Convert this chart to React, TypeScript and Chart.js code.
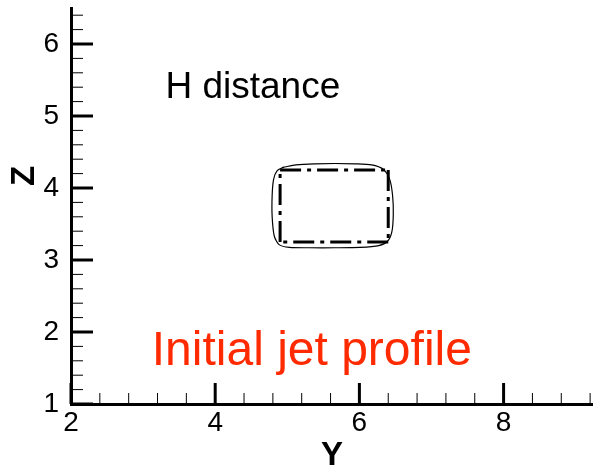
import React, { useEffect, useRef } from 'react';
import { Chart, registerables } from 'chart.js';

Chart.register(...registerables);

const FONT = "'Liberation Sans', Arial, Helvetica, sans-serif";

// Axis ranges: horizontal "Y", vertical "Z"
const Y_RANGE = [2, 9.24];
const Z_RANGE = [1, 6.5];
const Y_TICKS = [2, 4, 6, 8];
const Z_TICKS = [1, 2, 3, 4, 5, 6];
const Y_MINOR_STEP = 0.4;
const Z_MINOR_STEP = 0.2;

// Jet nozzle outline (dash-dot rectangle)
const NOZZLE_Y = [4.9, 6.4];
const NOZZLE_Z = [3.25, 4.25];

// Jet boundary at the H distance (thin closed curve)
const OUTLINE_Y = [4.95, 5.12, 5.38, 5.66, 5.94, 6.17, 6.33, 6.42, 6.46, 6.47, 6.45, 6.39, 6.27, 6.01, 5.66, 5.31, 5.03, 4.89, 4.82, 4.79, 4.79, 4.81, 4.86, 4.95];
const OUTLINE_Z = [4.29, 4.32, 4.335, 4.34, 4.335, 4.32, 4.26, 4.12, 3.9, 3.63, 3.39, 3.26, 3.2, 3.175, 3.17, 3.17, 3.175, 3.21, 3.33, 3.6, 3.9, 4.12, 4.24, 4.29];

// Text annotations
const LABEL_H = { text: 'H distance', y: 3.31, z: 5.25 };
const LABEL_JET = { text: 'Initial jet profile', y: 3.12, z: 1.54 };

const pts = (ys: number[], zs: number[]) => ys.map((y, i) => ({ x: y, y: zs[i] }));

const nozzleSides = () => {
  const [y0, y1] = NOZZLE_Y;
  const [z0, z1] = NOZZLE_Z;
  return [
    [{ x: y0, y: z1 }, { x: y1, y: z1 }],
    [{ x: y1, y: z1 }, { x: y1, y: z0 }],
    [{ x: y1, y: z0 }, { x: y0, y: z0 }],
    [{ x: y0, y: z0 }, { x: y0, y: z1 }],
  ];
};

const axisDecor = {
  id: 'axisDecor',
  afterDraw(chart: any) {
    const { ctx, chartArea, scales } = chart;
    const xs = scales.x;
    const ys = scales.y;
    const { left, right, top, bottom } = chartArea;
    ctx.save();
    ctx.strokeStyle = '#000';
    ctx.lineCap = 'butt';

    // minor ticks, pointing into the plot
    ctx.lineWidth = 1;
    const nx = Math.round((Y_RANGE[1] - Y_RANGE[0]) / Y_MINOR_STEP);
    for (let k = 1; k <= nx; k++) {
      const px = xs.getPixelForValue(Y_RANGE[0] + k * Y_MINOR_STEP);
      if (px > right + 0.5) break;
      ctx.beginPath();
      ctx.moveTo(px, bottom);
      ctx.lineTo(px, bottom - 11);
      ctx.stroke();
    }
    const nz = Math.round((Z_RANGE[1] - Z_RANGE[0]) / Z_MINOR_STEP);
    for (let k = 1; k <= nz; k++) {
      const py = ys.getPixelForValue(Z_RANGE[0] + k * Z_MINOR_STEP);
      if (py < top - 0.5) break;
      ctx.beginPath();
      ctx.moveTo(left, py);
      ctx.lineTo(left + 12, py);
      ctx.stroke();
    }

    // major ticks
    ctx.lineWidth = 3;
    Y_TICKS.forEach((v) => {
      const px = xs.getPixelForValue(v);
      ctx.beginPath();
      ctx.moveTo(px, bottom);
      ctx.lineTo(px, bottom - 21);
      ctx.stroke();
    });
    Z_TICKS.forEach((v) => {
      const py = ys.getPixelForValue(v);
      ctx.beginPath();
      ctx.moveTo(left, py);
      ctx.lineTo(left + 22, py);
      ctx.stroke();
    });

    // axis titles
    ctx.fillStyle = '#000';
    ctx.font = `bold 33px ${FONT}`;
    ctx.textAlign = 'center';
    ctx.textBaseline = 'middle';
    ctx.fillText('Y', (left + right) / 2, bottom + 52);
    ctx.save();
    ctx.translate(25, top + (bottom - top) * 0.424);
    ctx.rotate(-Math.PI / 2);
    ctx.fillText('Z', 0, 0);
    ctx.restore();

    // annotations
    ctx.textAlign = 'left';
    ctx.textBaseline = 'alphabetic';
    ctx.font = `37px ${FONT}`;
    ctx.fillStyle = '#000';
    ctx.fillText(LABEL_H.text, xs.getPixelForValue(LABEL_H.y), ys.getPixelForValue(LABEL_H.z));
    ctx.font = `48px ${FONT}`;
    ctx.fillStyle = '#ff2a00';
    ctx.fillText(LABEL_JET.text, xs.getPixelForValue(LABEL_JET.y), ys.getPixelForValue(LABEL_JET.z));
    ctx.restore();
  },
};

export default function App() {
  const canvasRef = useRef<HTMLCanvasElement | null>(null);

  useEffect(() => {
    const canvas = canvasRef.current;
    if (!canvas) return;

    const sideSets = nozzleSides().map((data) => ({
      data,
      showLine: true,
      borderColor: '#000',
      borderWidth: 3,
      borderDash: [21, 6, 4, 6],
      borderCapStyle: 'butt' as const,
      pointRadius: 0,
      fill: false,
      tension: 0,
    }));

    const chart = new Chart(canvas, {
      type: 'scatter',
      data: {
        datasets: [
          {
            data: pts(OUTLINE_Y, OUTLINE_Z),
            showLine: true,
            borderColor: '#000',
            borderWidth: 1.2,
            pointRadius: 0,
            fill: false,
            tension: 0.25,
          },
          ...sideSets,
        ],
      },
      options: {
        responsive: false,
        animation: false,
        devicePixelRatio: 1,
        layout: { padding: { top: 8, right: 0, left: 0, bottom: 0 } },
        plugins: {
          legend: { display: false },
          tooltip: { enabled: false },
        },
        scales: {
          x: {
            type: 'linear',
            min: Y_RANGE[0],
            max: Y_RANGE[1],
            afterFit: (scale: any) => {
              scale.height = 66;
              scale.paddingLeft = 0;
              scale.paddingRight = 0;
            },
            afterBuildTicks: (scale: any) => { scale.ticks = Y_TICKS.map((value) => ({ value })); },
            grid: { display: false, drawTicks: false },
            border: { display: true, width: 3, color: '#000' },
            ticks: {
              color: '#000',
              font: { family: FONT, size: 28 },
              padding: 2,
              maxRotation: 0,
              autoSkip: false,
            },
          },
          y: {
            type: 'linear',
            min: Z_RANGE[0],
            max: Z_RANGE[1],
            afterFit: (scale: any) => {
              scale.width = 71;
              scale.paddingTop = 0;
              scale.paddingBottom = 0;
            },
            afterBuildTicks: (scale: any) => { scale.ticks = Z_TICKS.map((value) => ({ value })); },
            grid: { display: false, drawTicks: false },
            border: { display: true, width: 3, color: '#000' },
            ticks: {
              color: '#000',
              font: { family: FONT, size: 28 },
              padding: 12,
              autoSkip: false,
            },
          },
        },
      },
      plugins: [axisDecor],
    });

    return () => chart.destroy();
  }, []);

  return (
    <div style={{ position: 'fixed', left: 0, top: 0, width: 593, height: 470, background: '#fff' }}>
      <canvas ref={canvasRef} width={593} height={470} style={{ display: 'block' }} />
    </div>
  );
}
